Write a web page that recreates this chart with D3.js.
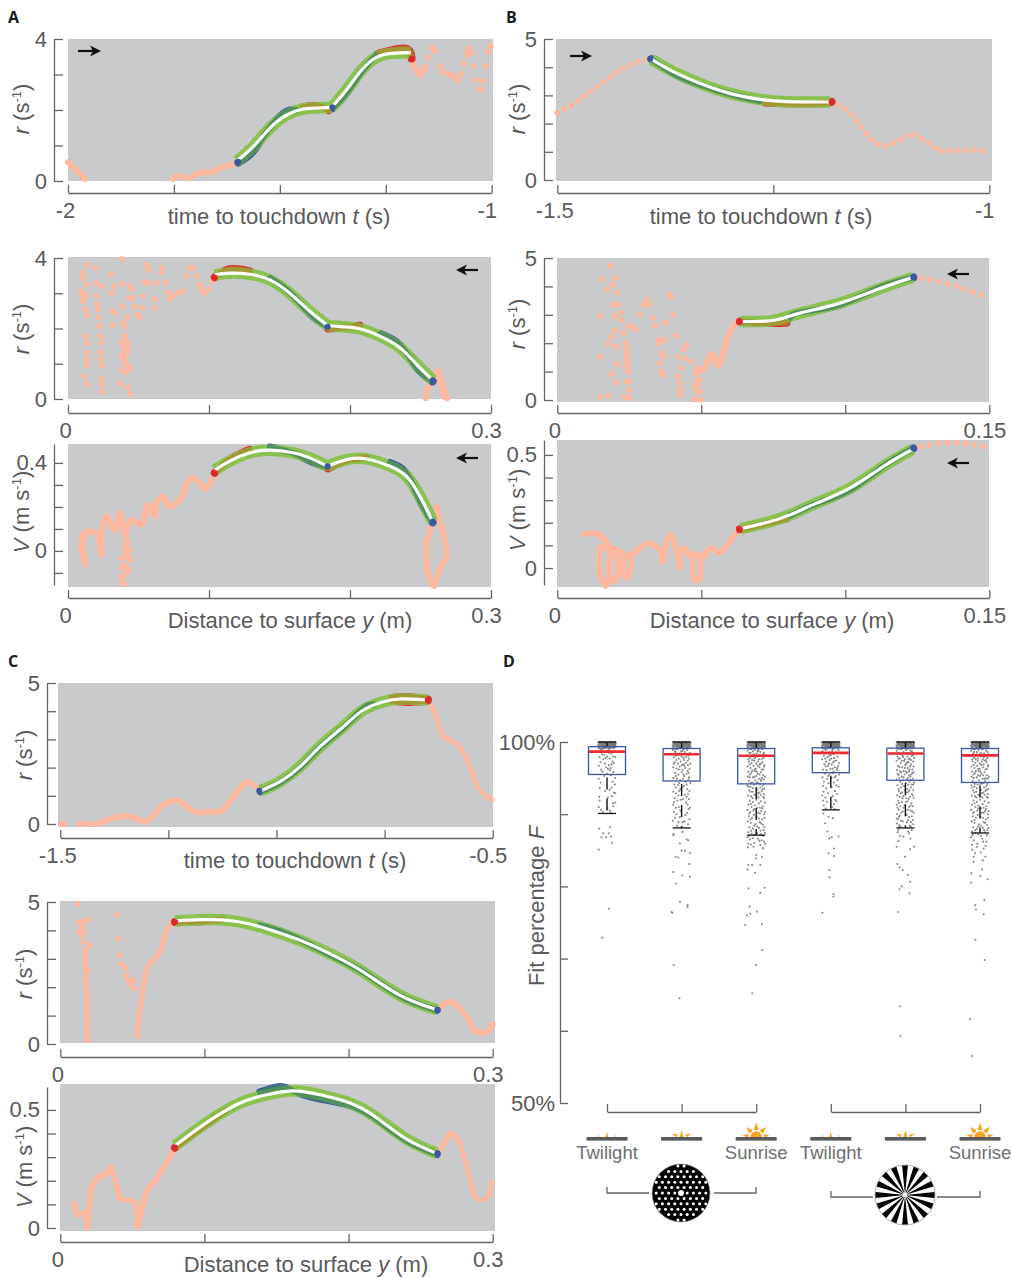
<!DOCTYPE html>
<html lang="en">
<head>
<meta charset="UTF-8">
<title>Landing trajectories and fit percentage</title>
<script src="https://d3js.org/d3.v7.min.js"></script>
<style>
  body { margin: 0; background: #fff; }
  text { font-family: "Liberation Sans", Arial, sans-serif; }
</style>
</head>
<body>
<script>
// Panel A, top: r against time
const a1Fit = [
  [[-1.601,.563],[-1.563,.967],[-1.524,1.484],[-1.484,1.859],[-1.445,2.028],[-1.413,2.056],[-1.378,2.075]],
  [[-1.378,2.075],[-1.343,2.563],[-1.307,3.127],[-1.272,3.484],[-1.236,3.596],[-1.191,3.615]]
];
const a1Blue = [
  [[-1.598,.52],[-1.563,.85],[-1.524,1.5],[-1.484,1.95],[-1.46,2]],
  [[-1.376,2.05],[-1.343,2.48],[-1.307,3.08],[-1.272,3.55]]
];
const a1Red = [
  [[-1.445,2.08],[-1.413,2.11],[-1.385,2]],
  [[-1.264,3.6],[-1.236,3.68],[-1.2,3.72],[-1.189,3.45]]
];
const a1BlueEnds = [[-1.598,.545],[-1.376,2.075]];
const a1RedEnds = [[-1.189,3.437]];
const a1Lines = [
  [[-2,.53],[-1.96,.06]],
  [[-1.752,.06],[-1.74,.14],[-1.717,.08],[-1.689,.23],[-1.657,.26],[-1.642,.36],[-1.602,.5]],
  [[-1.189,3.437],[-1.181,3.174],[-1.168,2.986],[-1.157,3.221]]
];
const a1Dots = [[-1.15,3.484],[-1.14,3.756],[-1.132,3.671],[-1.136,3.7],[-1.122,3.239],[-1.116,3.08],[-1.102,3.005],[-1.096,3],[-1.091,2.958],[-1.079,2.826],[-1.084,2.9],[-1.071,3.014],[-1.065,3.315],[-1.059,3.615],[-1.053,3.737],[-1.047,3.596],[-1.057,3.55],[-1.043,3.239],[-1.037,2.845],[-1.029,2.582],[-1.024,2.563],[-1.02,2.817],[-1.013,3.239],[-1.008,3.643],[-1.002,3.803]];

// Panel A, middle: r against distance
const a2Fit = [
  [[.2586,.535],[.2472,.985],[.2354,1.455],[.2212,1.784],[.207,1.991],[.1952,2.047],[.1841,2.085]],
  [[.1841,2.085],[.1715,2.488],[.1573,3],[.1431,3.38],[.1289,3.54],[.1147,3.57],[.1041,3.52]]
];
const a2Blue = [
  [[.2586,.5],[.2472,.9],[.2354,1.52],[.2212,1.85]],
  [[.1841,2.05],[.1715,2.42],[.1573,3.02],[.1431,3.43]]
];
const a2Red = [
  [[.207,2.08],[.1952,2.03],[.1845,2]],
  [[.1289,3.62],[.1147,3.68],[.1041,3.45]]
];
const a2BlueEnds = [[.2586,.535],[.1841,2.05]];
const a2RedEnds = [[.1041,3.45]];
const a2Lines = [
  [[.2586,.535],[.2626,.753],[.2657,.376],[.269,.02]],
  [[.2586,.535],[.2626,.8],[.2645,.4],[.2672,.05]],
  [[.2586,.535],[.2555,.329],[.2538,.02]]
];
const a2Dots = [[.1024,3.34],[.1001,3.11],[.097,3.01],[.0946,3.11],[.093,3.25],[.0916,3.48],[.0887,3.72],[.0864,3.72],[.084,3.48],[.0812,3.06],[.0781,3.01],[.0745,2.92],[.0722,2.84],[.0705,3.03],[.0693,3.31],[.0667,3.72],[.0662,3.59],[.0627,3.29],[.0615,2.84],[.0615,2.59],[.0568,3.29],[.0568,3.67],[.0556,3.81],[.0544,3.31],[.0532,2.92],[.0528,2.59],[.0509,2.31],[.049,2.4],[.0473,2.63],[.0461,2.87],[.045,3.11],[.0442,3.2],[.0433,2.87],[.0421,2.33],[.0395,2.16],[.0402,2.05],[.039,2.63],[.0386,3.27],[.0379,3.97],[.0331,3.2],[.0308,3.53],[.0312,3.01],[.0319,2.49],[.0331,2.45],[.0319,2.09],[.0244,3.2],[.0201,3.29],[.0196,3.72],[.0201,2.92],[.0208,2.68],[.0213,2.54],[.022,2.31],[.0225,2.07],[.0232,1.79],[.0237,1.6],[.0232,1.32],[.0237,1.13],[.0241,.94],[.0237,.56],[.0241,.42],[.0241,.21],[.0135,3.81],[.0106,3.58],[.0099,3.43],[.0135,3.25],[.0095,3.06],[.0106,2.96],[.0125,2.92],[.0102,2.78],[.0125,2.54],[.0135,2.37],[.0125,1.77],[.0135,1.58],[.0135,1.32],[.0135,1.13],[.0135,.96],[.0118,.64],[.0135,.42],[.0402,1.79],[.0409,1.69],[.0379,1.6],[.0395,1.52],[.0426,1.58],[.0402,1.41],[.0426,1.36],[.0414,1.22],[.0379,1.2],[.0402,1.11],[.0419,.99],[.0386,.83],[.0442,.87],[.0414,.75],[.0371,.44],[.0426,.33],[.0442,.14],[.04,1.65],[.0415,1.5],[.041,1.35],[.0395,1.3],[.0405,1.0]];

// Panel A, bottom: V against distance
const a3Fit = [
  [[.2586,.134],[.2496,.248],[.2401,.339],[.2283,.385],[.2118,.418],[.1975,.415],[.1841,.385]],
  [[.1841,.385],[.1715,.423],[.1597,.446],[.1431,.458],[.1289,.446],[.1147,.408],[.1041,.367]]
];
const a3Blue = [
  [[.2586,.13],[.2496,.23],[.2401,.35],[.2283,.4]],
  [[.1841,.38],[.1715,.41],[.1597,.445],[.1431,.47]]
];
const a3Red = [
  [[.2118,.425],[.1975,.41],[.1845,.375]],
  [[.1289,.46],[.1147,.415],[.1041,.355]]
];
const a3BlueEnds = [[.2586,.134],[.1841,.385]];
const a3RedEnds = [[.1041,.354]];
const a3Lines = [
  [[.1041,.354],[.0977,.281],[.0935,.309],[.0883,.332],[.084,.301],[.0804,.24],[.0722,.202],[.0674,.248],[.0627,.217],[.0615,.157],[.0568,.21],[.052,.119],[.045,.141],[.0402,.081],[.0367,.172],[.0331,.096],[.0272,.157],[.0237,.065],[.0237,-.018],[.0201,.081],[.0154,.088],[.0106,.073],[.0125,-.064],[.0095,.035],[.0135,.08]],
  [[.2586,.134],[.2538,.005],[.2555,-.102],[.2595,-.16],[.2638,-.079],[.2685,-.026],[.2673,.05],[.2633,.141],[.2614,.202],[.2602,.157],[.2586,.134]],
  [[.0402,.081],[.0414,.04],[.0402,.01],[.0425,-.02]]
];
const a3Dots = [[.0402,.11],[.0414,.065],[.0426,.035],[.0442,.005],[.0414,-.026],[.0379,-.033],[.0442,-.041],[.0402,-.064],[.0426,-.079],[.0379,-.079],[.0395,-.11],[.0426,-.094],[.0386,-.14],[.0379,-.12],[.0395,-.15]];

// Panel B, top
const b1Fit = [[[-1.3908,4.279],[-1.3657,3.842],[-1.3349,3.428],[-1.3002,3.073],[-1.2654,2.861],[-1.2346,2.778],[-1.1844,2.766]]];
const b1Blue = [[[-1.3908,4.279],[-1.3657,3.78],[-1.3349,3.38],[-1.3002,3.05],[-1.2654,2.8]]];
const b1Red = [[[-1.2596,2.75],[-1.2346,2.72],[-1.196,2.72],[-1.1825,2.77]]];
const b1BlueEnds = [[-1.3925,4.3]];
const b1RedEnds = [[-1.1825,2.766]];
const b1Dotted = [
  [[-1.5,2.388],[-1.4776,2.778],[-1.4545,3.286],[-1.4313,3.806],[-1.412,4.137],[-1.3927,4.303]],
  [[-1.1825,2.766],[-1.1651,2.506],[-1.1497,1.95],[-1.1343,1.395],[-1.1208,1.206],[-1.1073,1.359],[-1.088,1.619],[-1.0725,1.359],[-1.0571,1.064],[-1.0378,1.04],[-1.0147,1.064],[-1,.969]]
];

// Panel B, middle
const b2Fit = [[[.1234,4.318],[.1109,3.882],[.0981,3.412],[.0843,3.059],[.0762,2.824],[.0704,2.765],[.0637,2.765]]];
const b2Blue = [[[.1236,4.318],[.1109,3.92],[.0981,3.36],[.0843,3.08],[.0808,2.9]]];
const b2Red = [[[.0796,2.72],[.0704,2.71],[.0634,2.765]]];
const b2BlueEnds = [[.1236,4.318]];
const b2RedEnds = [[.0634,2.765]];
const b2Dotted = [[[.1262,4.294],[.1329,4.165],[.1392,3.976],[.1454,3.765],[.1488,3.624]]];
const b2Lines = [[[.0634,2.765],[.0605,2.529],[.0582,1.882],[.0559,1.2],[.0536,1.624],[.0507,1.059],[.0484,1.118]]];
const b2Dots = [[.0466,1.353],[.0449,1.941],[.0438,1.765],[.042,1.529],[.0443,1.471],[.0432,1.118],[.042,.824],[.0426,.588],[.0426,.176],[.0426,.35],[.0484,.941],[.0495,.706],[.0478,.471],[.0495,.294],[.0476,.02],[.0499,.02],[.0484,.706],[.0414,2.259],[.0397,3.624],[.0389,3.706],[.0403,3],[.0377,2.729],[.037,2.118],[.0354,2],[.0362,1.647],[.037,1.529],[.0356,1.294],[.0362,1],[.0365,.882],[.0351,2.118],[.0339,2.612],[.0333,2.882],[.0322,3.353],[.031,3.529],[.0299,3.353],[.0287,3],[.0275,2.471],[.0258,2.588],[.0247,2.588],[.0231,2.353],[.0223,2.824],[.022,3.059],[.0215,3.353],[.0208,3.788],[.0204,4.294],[.0194,4.059],[.0174,3.882],[.0186,4.729],[.0154,4.259],[.0148,2.965],[.0194,3.353],[.0197,2.941],[.02,2.447],[.0189,2.212],[.0177,1.976],[.0204,1.882],[.0206,1.271],[.0189,.918],[.0206,.612],[.0148,1.529],[.0238,2],[.0241,1.647],[.0243,1.412],[.0238,1.176],[.0247,1],[.0241,.647],[.025,.647],[.025,.353],[.0235,.118],[.025,.059],[.0148,.118],[.0177,.153],[.024,1.82],[.0242,1.53],[.0246,1.28],[.0488,.55],[.0484,.3]];

// Panel B, bottom
const b3Fit = [[[.1234,.525],[.1132,.449],[.1016,.353],[.09,.287],[.0808,.235],[.0727,.201],[.0637,.174]]];
const b3Blue = [[[.1236,.529],[.1132,.45],[.1016,.345],[.09,.285],[.0808,.232]]];
const b3Red = [[[.0796,.22],[.0727,.198],[.0634,.172]]];
const b3BlueEnds = [[.1236,.529]];
const b3RedEnds = [[.0634,.172]];
const b3Dotted = [[[.1262,.537],[.1329,.551],[.1392,.554],[.1454,.544],[.1488,.537]]];
const b3Lines = [
  [[.0634,.172],[.06,.118],[.0582,.088],[.0562,.066],[.0531,.088],[.0507,.051],[.0484,.059]],
  [[.0475,.059],[.047,0],[.0478,-.051],[.0493,-.051],[.0501,0],[.0493,.059],[.0475,.059]],
  [[.0484,.059],[.0461,.059],[.0443,.088],[.0426,.051],[.0426,0],[.0414,.081],[.0395,.147],[.0374,.088],[.0366,.029],[.0356,.081],[.0316,.11],[.0275,.074],[.0258,.059],[.0235,.059]],
  [[.0229,.037],[.0231,-.029],[.0244,-.044],[.0255,0],[.025,.059],[.0229,.037]],
  [[.0235,.059],[.0205,.081],[.0188,.088],[.0212,.037],[.0212,-.022],[.0194,-.059],[.0181,-.022],[.0183,.051],[.0194,.088]],
  [[.0171,.088],[.0154,.096],[.0144,.015],[.0154,-.051],[.0169,-.078],[.0181,-.022],[.0183,.051],[.0169,.118],[.0142,.15],[.009,.151]]
];

// Panel C, top
const c1Fit = [[[-1.0366,1.182],[-.9919,1.501],[-.9456,2.033],[-.8994,2.742],[-.8454,3.452],[-.7991,4.043],[-.7529,4.338],[-.7143,4.433],[-.6527,4.397]]];
const c1Blue = [[[-1.0366,1.16],[-.9919,1.47],[-.9456,2],[-.8994,2.72],[-.8454,3.42],[-.7991,4.1],[-.776,4.25]]];
const c1Red = [
  [[-.7336,4.47],[-.7,4.5],[-.65,4.42]],
  [[-.7336,4.38],[-.695,4.33],[-.65,4.38]]
];
const c1BlueEnds = [[-1.0397,1.182]];
const c1RedEnds = [[-.6503,4.397]];
const c1Lines = [
  [[-1.4969,0],[-1.49,0]],
  [[-1.4545,0],[-1.4275,0]],
  [[-1.4136,0],[-1.3851,.177],[-1.3527,.284],[-1.3234,.2],[-1.3042,.059],[-1.281,.355],[-1.2618,.674],[-1.2271,.827],[-1.2039,.579],[-1.1847,.414],[-1.1538,.437],[-1.1268,.461],[-1.0998,.969],[-1.0675,1.478],[-1.0397,1.206]]
];
const c1Dotted = [[[-.6488,4.338],[-.6372,4.043],[-.6257,3.546],[-.6141,3.097],[-.5987,2.979],[-.5771,2.742],[-.5601,2.329],[-.5486,1.856],[-.537,1.383],[-.5216,1.064],[-.5,.851]]];

// Panel C, middle
const c2Fit = [[[.2612,1.209],[.2357,1.714],[.2103,2.535],[.1895,3.122],[.1663,3.65],[.1432,4.061],[.1201,4.331],[.0969,4.378],[.0796,4.331]]];
const c2Blue = [[[.2612,1.19],[.2357,1.69],[.2103,2.53],[.1895,3.08],[.1663,3.67],[.1524,3.97],[.1386,4.18]]];
const c2Red = [[[.1131,4.38],[.1015,4.33],[.0877,4.31],[.0796,4.3]]];
const c2BlueEnds = [[.2616,1.209]];
const c2RedEnds = [[.0796,4.296]];
const c2Lines = [[[.2616,1.209],[.2669,1.42],[.2716,1.479],[.2774,1.244],[.2831,.892],[.2878,.458],[.2959,.423],[.3,.692]]];
const c2Dotted = [
  [[.0796,4.331],[.0738,4.002],[.0692,3.239],[.0645,2.946],[.0611,2.77],[.0588,2.359],[.0564,1.538],[.0541,.833],[.053,.188]],
  [[.0187,.129],[.0187,.423],[.0187,.716],[.0187,1.068],[.0183,1.303],[.0187,1.714],[.0178,2.101],[.0178,2.476],[.0171,3.04],[.0171,3.298]]
];
const c2Dots = [[.0396,4.554],[.0402,3.709],[.0409,3.122],[.0419,2.829],[.0449,2.688],[.0472,2.242],[.0507,2.242],[.0518,1.948],[.0483,2.066],[.0456,2.418],[.0194,2.594],[.0201,3.474],[.0164,3.592],[.0148,3.826],[.0136,3.944],[.0148,4.261],[.0201,4.378],[.0125,4.941],[.0132,4.296],[.0165,3.95],[.016,4.32],[.0155,4.15]];

// Panel C, bottom
const c3Fit = [[[.2612,.316],[.2403,.376],[.2195,.467],[.201,.529],[.1802,.564],[.1617,.581],[.1432,.564],[.1247,.529],[.1015,.446],[.0796,.348]]];
const c3Blue = [[[.2612,.313],[.2403,.37],[.2195,.46],[.201,.52],[.1802,.548],[.1617,.58],[.1524,.597],[.1386,.575]]];
const c3Red = [[[.1154,.5],[.0969,.42],[.0796,.34]]];
const c3BlueEnds = [[.2616,.316]];
const c3RedEnds = [[.0796,.341]];
const c3Lines = [
  [[.2616,.313],[.2658,.355],[.2716,.4],[.2774,.355]],
  [[.0796,.341],[.0726,.265],[.0669,.209],[.0611,.167],[.0576,.104],[.0541,.014],[.053,.007]],
  [[.0414,.125],[.0391,.181]],
  [[.0356,.258],[.0322,.23],[.0252,.209],[.0217,.167],[.0194,.063],[.0187,0],[.0171,.063],[.0125,.056],[.0095,.104]]
];
const c3Dotted = [
  [[.2774,.355],[.282,.265],[.2866,.153],[.289,.125],[.2959,.125],[.3,.209]],
  [[.053,.007],[.0518,.111],[.046,.118],[.0414,.125],[.0391,.181],[.0356,.258]]
];

// Panel D: box values (median, quartiles, lower whisker)
const stimulusLevels = ["dots twilight", "dots mid", "dots sunrise", "pinwheel twilight", "pinwheel mid", "pinwheel sunrise"];
const boxMedian = [98.66, 98.3, 98.1, 98.5, 98.4, 98.15];
const boxQ3 = [99.35, 99.1, 99.1, 99.2, 99.15, 99.1];
const boxQ1 = [95.5, 94.6, 94.2, 95.75, 94.7, 94.4];
const whiskerLow = [90.1, 88.1, 87.1, 90.6, 88.1, 87.4];
const fitTicks = [50, 60, 70, 80, 90, 100];
const fitTickLabels = ["50%", "", "", "", "", "100%"];
const sunLevel = [1, 2, 3, 1, 2, 3];

// Panel D: scatter as [jitter, F]
const topBand = [[-.95,99.9],[-.85,99.6],[-.78,100],[-.7,99.4],[-.62,99.8],[-.55,99.1],[-.48,99.95],[-.42,99.5],[-.35,99.75],[-.28,99.2],[-.2,100],[-.13,99.55],[-.05,99.85],[.02,99.3],[.1,99.95],[.16,99.65],[.23,99],[.3,99.9],[.37,99.45],[.45,99.7],[.52,100],[.58,99.25],[.65,99.8],[.72,99.5],[.8,100],[.88,99.35],[.96,99.85],[-.9,99.3],[-.66,100],[-.4,99.1],[-.15,99.35],[.05,99.65],[.27,99.6],[.49,99.4],[.75,99.15],[.92,99.6],[-.75,99.7],[-.5,99.65],[-.22,99.75],[.12,99.2],[.4,100],[.62,99.55],[.85,99.75],[-.3,99.95],[.2,99.85],[-.98,99.5],[-.88,99.15],[-.8,99.85],[-.72,99.05],[-.6,99.55],[-.52,99.35],[-.45,99.8],[-.38,99.25],[-.32,99.55],[-.25,99.45],[-.18,99.85],[-.1,99.15],[-.02,99.5],[.07,99.4],[.14,99.95],[.19,99.45],[.25,99.25],[.33,99.75],[.42,99.15],[.47,99.9],[.55,99.65],[.6,99.85],[.68,99.3],[.78,99.65],[.83,99.45],[.9,100],[.97,99.35]];
const g1Points = [[-.9,98.6],[-.6,98.9],[-.3,98.2],[.1,98.8],[.5,98.4],[.8,98.7],[-.8,97.9],[-.4,97.6],[0,98],[.3,97.7],[.6,97.3],[.9,97.9],[-.7,97.2],[-.2,97],[.2,96.8],[.5,96.9],[.1,96.3],[-.1,96.5],[.3,96.1],[-.9,96.7],[-.5,95.9],[.7,95.8],[0,95.6],[.4,95.4],[-.3,95.3],[.9,95],[-.9,94.9],[-.7,94.4],[.6,94.5],[.85,94.1],[.5,93.7],[-.8,93.6],[-.2,93.2],[.3,93.4],[.75,93],[.9,92.9],[-.85,92.4],[.1,92.3],[.55,92.5],[-.8,91.9],[.65,91.5],[.9,91.6],[.7,91.1],[-.9,91],[-.65,90.6],[.05,90.8],[-.45,90.3],[.4,90.2],[.3,90.5],[-.84,88],[.33,88.2],[-.4,87.35],[.2,87.35],[-.6,86.8],[-.1,86.8],[.44,86.9],[.55,86.05],[-.91,85.1],[.22,76.9],[-.5,72.9],[-.55,98.3],[.25,98.5],[.65,98],[-.15,97.8],[.4,96.4],[-.65,96.2],[-.25,98.7],[.75,97.1]];
const g2Points = [[-.95,98.9],[-.7,98.7],[-.5,99],[-.2,98.4],[.1,98.8],[.35,98.6],[.6,98.9],[.9,98.5],[-.85,97.9],[-.6,98.1],[-.3,97.7],[0,98],[.25,97.5],[.5,97.9],[.8,97.7],[-.75,97.2],[-.4,97],[-.1,97.3],[.2,96.9],[.45,97.1],[.7,96.8],[.95,97],[-.9,96.5],[-.55,96.3],[-.2,96.6],[.1,96.1],[.4,96.4],[.65,96],[.85,96.3],[-.7,95.7],[-.35,95.5],[0,95.8],[.3,95.3],[.55,95.6],[.8,95.1],[-.9,95],[-.5,94.9],[-.15,94.7],[.15,94.9],[.45,94.5],[.75,94.8],[.95,94.3],[-.8,94.1],[-.4,94],[.1,93.7],[.6,93.5],[.85,93.2],[-.9,93.1],[-.6,92.9],[-.25,93.2],[.35,92.7],[.55,92.4],[-.75,92.2],[-.45,91.9],[-.1,92],[.8,92.1],[.65,91.3],[-.9,91.3],[-.6,90.9],[-.3,91],[.75,90.7],[-.85,90.3],[-.55,90],[.4,89.9],[.6,90.2],[-.7,89.5],[-.2,89.6],[-.95,89.1],[.85,89.3],[.1,88.9],[.7,88.6],[-.5,88.4],[-.84,87.25],[.11,87.55],[.73,86.4],[-.18,85.95],[-.91,87.1],[.55,86.5],[0,84.95],[.36,84.95],[.91,84.65],[-.65,84.1],[-.36,84],[.84,83.1],[-.91,82],[.07,81.5],[.91,81.35],[-.65,80.4],[-.18,77.85],[.65,77.15],[-1,76.35],[-1.09,76.45],[.65,77.4],[-.87,69.1],[-.22,64.5]];
const g2Extra = [[-.65,98.6],[-.05,98.7],[.45,98.3],[.75,98.1],[-.35,98.2],[.2,97.8],[-.55,97.5],[.65,97.4],[-.85,97],[.3,96.7],[-.3,96.2],[.05,96.8],[.75,95.7],[-.6,95.3],[.2,95.5],[-.25,94.3],[.55,94.1],[-.65,93.7],[.25,93.9],[-.15,93.5],[.7,92.8],[-.35,92.6],[.15,92.1],[.5,91.6],[-.8,91.7],[.9,90.9],[-.15,90.5],[.3,89],[-.35,88.9]];
const g3Points = [[-.95,98.8],[-.75,98.5],[-.55,99],[-.35,98.7],[-.15,98.9],[.05,98.4],[.25,98.8],[.45,98.6],[.65,99],[.85,98.5],[-.9,98.1],[-.65,97.8],[-.4,98.2],[-.2,97.7],[.1,98],[.3,97.6],[.55,98.1],[.8,97.8],[.95,98.2],[-.8,97.3],[-.5,97.1],[-.25,97.4],[0,97],[.2,97.3],[.4,96.9],[.7,97.2],[.9,96.8],[-.95,96.6],[-.6,96.4],[-.3,96.7],[-.05,96.3],[.35,96.5],[.6,96.2],[.85,96.6],[-.85,95.9],[-.55,95.7],[-.15,96],[.15,95.6],[.5,95.8],[.75,95.4],[-.9,95.2],[-.7,95.5],[-.35,95.1],[0,95.3],[.3,94.9],[.65,95],[.95,95.2],[-.8,94.6],[-.45,94.4],[-.1,94.7],[.2,94.3],[.55,94.6],[.8,94.2],[-.95,94],[-.6,93.8],[-.25,94.1],[.45,93.7],[.7,93.9],[.9,93.5],[-.75,93.3],[-.4,93.1],[.1,93.4],[.35,93],[.6,93.2],[.85,92.8],[-.9,92.6],[-.55,92.5],[-.2,92.7],[.25,92.3],[.75,92.4],[-.7,91.9],[-.35,91.7],[0,92],[.5,91.8],[.95,91.6],[-.85,91.3],[-.5,91],[-.15,91.2],[.4,90.9],[.7,91.1],[-.95,90.6],[-.65,90.3],[-.3,90.5],[.2,90.2],[.55,90.4],[.85,90],[-.8,89.7],[-.45,89.5],[.05,89.6],[.65,89.3],[.9,89.5],[-.9,89],[-.6,88.8],[-.1,88.6],[.4,88.9],[.75,88.5],[-.75,88.2],[-.35,88],[.3,88.1],[.8,87.8],[-.85,87.5],[-.5,87.3],[.1,87.4],[.55,87.2],[.95,87.4],[-.95,86.8],[-.7,86.5],[-.4,86.7],[.2,86.6],[.6,86.4],[.85,86.2],[-.85,85.9],[-.55,85.8],[-.2,86],[.45,85.7],[.95,85.9],[-.9,85.4],[.75,85.3],[-.87,82.95],[-.44,82.95],[.44,82.95],[-.11,81.9],[-.95,82.35],[0,84.35],[0,83.9],[.62,84.1],[-.84,79.75],[.91,79.8],[.44,79.1],[-.73,77.2],[.07,76.5],[-1,76],[.62,74.75],[-.65,76.2],[-1.2,74.65],[.65,71.2],[0,69.1],[-.43,65.2]];
const g3Extra = [[-.6,98.5],[.15,98.7],[.75,98.3],[-.25,98.3],[.35,98.2],[-.85,97.6],[-.1,97.9],[.6,97.6],[-.45,97.5],[.15,96.7],[.5,97],[-.7,96.9],[-.2,96.2],[.75,96.2],[.05,95.9],[-.45,96],[.35,95.5],[-.7,95.1],[-.2,95.2],[.5,94.8],[.85,94.8],[-.6,94.3],[.05,94.4],[.4,94.2],[.7,93.5],[-.35,93.6],[-.85,93.8],[.2,92.9],[-.6,93.1],[.5,92.7],[.05,92.5],[-.4,92.2],[.85,92.2],[.3,91.5],[-.6,91.4],[.65,90.8],[-.2,90.7],[.1,90.9],[-.75,90.1],[.4,90.1],[.95,90.3],[-.25,89.9],[.3,89.4],[-.6,89.3],[.55,88.7],[-.2,88.4],[.1,88.3],[.9,88.2],[-.55,87.7],[.45,87.7],[-.2,87.1],[.75,87],[-.8,87],[.35,86.3],[-.3,85.5]];
const g4Points = [[-.9,98.7],[-.55,98.9],[-.2,98.4],[.15,98.8],[.5,98.5],[.85,98.9],[-.75,98.1],[-.35,97.9],[0,98.2],[.35,97.8],[.7,98],[-.95,97.6],[-.5,97.3],[-.1,97.5],[.25,97.2],[.6,97.4],[.9,97.1],[-.7,96.9],[-.3,96.7],[.1,96.9],[.45,96.5],[.8,96.7],[-.85,96.2],[-.45,96.1],[-.05,96.3],[.3,95.9],[.65,96.1],[-.6,95.6],[-.15,95.5],[.2,95.7],[.55,95.3],[.9,95.5],[-.9,95.1],[-.4,94.9],[.05,95],[.75,94.7],[-.75,94.5],[-.25,94.3],[.35,94.4],[.6,94],[-.85,93.9],[-.5,93.6],[.1,93.7],[.85,93.8],[-.8,93.1],[-.3,92.9],[.45,93.2],[.7,92.8],[-.95,92.6],[-.6,92.3],[.2,92.5],[.5,92],[-.85,91.9],[-.4,91.7],[.35,91.4],[.6,91.8],[-.75,91.2],[-.55,90.8],[.15,91],[.4,90.7],[-.8,90.1],[-.25,89.65],[.22,89.45],[-.62,88.75],[-.36,87.6],[.84,86.9],[-.15,86.65],[.11,86.8],[.36,85.25],[-.25,84.6],[.36,84.2],[-.15,82.25],[-.15,81.25],[.29,78.95],[.29,78.6],[-.91,76.35],[-.65,98.4],[.3,98.3],[.75,98.5],[-.15,98.1],[-.6,97.7],[.4,97.4],[.05,97.7],[-.2,97],[.7,96.4],[.2,96.3],[-.55,96.6],[-.3,95.3],[.4,95.1]];
const g5Points = [[-.95,98.8],[-.7,98.5],[-.45,99],[-.2,98.6],[.05,98.9],[.3,98.4],[.55,98.8],[.8,98.5],[-.85,98],[-.6,97.7],[-.3,98.1],[-.05,97.6],[.2,98],[.45,97.7],[.7,98.1],[.95,97.8],[-.95,97.4],[-.5,97.1],[-.15,97.4],[.1,97],[.35,97.2],[.6,96.9],[.85,97.3],[-.8,96.7],[-.35,96.5],[0,96.8],[.25,96.4],[.5,96.6],[.75,96.2],[-.9,96.1],[-.6,95.9],[-.2,96],[.15,95.7],[.4,95.9],[.65,95.5],[.9,95.8],[-.75,95.4],[-.4,95.2],[-.1,95.5],[.3,95],[.55,95.2],[.8,94.9],[-.95,94.8],[-.55,94.5],[-.25,94.7],[.05,94.3],[.45,94.5],[.7,94.1],[.95,94.4],[-.85,94],[-.5,93.7],[-.15,93.9],[.2,93.5],[.6,93.7],[.85,93.3],[-.7,93.2],[-.35,93],[.35,93.1],[.7,92.8],[-.9,92.6],[-.6,92.4],[-.2,92.5],[.1,92.2],[.5,92.4],[.9,92.2],[-.8,91.9],[-.4,91.7],[.25,91.8],[.65,91.5],[-.95,91.3],[-.55,91.1],[-.1,91.2],[.4,91],[.8,91.1],[-.75,90.6],[-.3,90.4],[.55,90.5],[.9,90.2],[-.9,90],[-.6,89.8],[.15,89.9],[.7,89.7],[-.8,89.3],[-.5,89.1],[.3,89.2],[.6,88.9],[-.9,88.7],[-.65,88.5],[.45,88.4],[.85,88.6],[-.7,88.2],[-.76,87.8],[-.22,86.9],[.4,87.35],[.69,87.8],[.95,85.5],[-.95,85.5],[.51,85.15],[-.04,84.1],[-.87,83.1],[-.65,82.65],[-.29,82.25],[.25,81.6],[.51,80.65],[-.4,80],[-.65,79.6],[.44,79.05],[-.8,76.45],[-.54,63.4],[-.54,59.3]];
const g5Extra = [[-.55,98.3],[.15,98.5],[.7,98.7],[-.25,97.9],[.35,97.6],[-.75,97.7],[.85,98.2],[-.4,97.4],[.2,97.2],[.6,97.5],[-.65,96.5],[-.05,96.4],[.45,96.2],[.9,96.6],[-.45,95.8],[.05,95.9],[.75,95.7],[-.85,95.6],[-.2,95.1],[.4,95.4],[-.65,95],[.15,94.8],[.6,94.7],[-.35,94.2],[.3,94.1],[.85,94.1],[-.75,93.5],[-.05,93.3],[.45,93.3],[-.5,92.9],[.15,93],[.8,92.6],[-.3,92.2],[.35,92.1],[-.7,91.6],[.05,91.7],[.55,91.2],[-.85,90.9],[-.2,90.9],[.25,90.6],[.75,90.4],[-.45,90.2],[.4,89.6],[-.7,89.6],[.8,89.2],[-.95,89.4],[-.3,89],[.15,88.9],[-.55,88.3],[.6,88.3],[-.85,87.5],[.3,87.6],[-.6,87],[.55,86.6],[-.75,86.3]];
const g6Points = [[-.95,98.8],[-.75,98.4],[-.55,99],[-.35,98.6],[-.15,98.9],[.05,98.5],[.25,99],[.45,98.4],[.65,98.8],[.85,98.6],[-.9,98.1],[-.65,97.8],[-.4,98.2],[-.2,97.7],[.1,98],[.3,97.6],[.55,98.1],[.8,97.8],[.95,98.3],[-.8,97.3],[-.5,97.1],[-.25,97.4],[0,97],[.2,97.3],[.4,96.9],[.7,97.2],[.9,96.8],[-.95,96.6],[-.6,96.4],[-.3,96.7],[-.05,96.3],[.35,96.5],[.6,96.2],[.85,96.6],[-.85,95.9],[-.55,95.7],[-.15,96],[.15,95.6],[.5,95.8],[.75,95.4],[-.9,95.2],[-.7,95.5],[-.35,95.1],[0,95.3],[.3,94.9],[.65,95],[.95,95.2],[-.8,94.6],[-.45,94.4],[-.1,94.7],[.2,94.3],[.55,94.6],[.8,94.2],[-.95,94],[-.6,93.8],[-.25,94.1],[.45,93.7],[.7,93.9],[.9,93.5],[-.75,93.3],[-.4,93.1],[.1,93.4],[.35,93],[.6,93.2],[.85,92.8],[-.9,92.6],[-.55,92.5],[-.2,92.7],[.25,92.3],[.75,92.4],[-.7,91.9],[-.35,91.7],[0,92],[.5,91.8],[.95,91.6],[-.85,91.3],[-.5,91],[-.15,91.2],[.4,90.9],[.7,91.1],[-.95,90.6],[-.65,90.3],[-.3,90.5],[.2,90.2],[.55,90.4],[.85,90],[-.8,89.7],[-.45,89.5],[.05,89.6],[.65,89.3],[.9,89.5],[-.9,89],[-.6,88.8],[-.1,88.6],[.4,88.9],[.75,88.5],[-.75,88.2],[-.35,88],[.3,88.1],[.8,87.8],[-.85,87.6],[-.5,87.4],[.55,87.5],[.1,87],[-.95,86.8],[-.65,86.4],[.25,86.6],[.7,86.2],[-.87,85.75],[-.33,85.5],[.4,85.25],[-.69,84.1],[.58,84.1],[-.69,83.4],[.22,82.35],[-.95,81.8],[.04,81.45],[.84,81],[-.98,80.5],[.47,78.1],[-.51,77.4],[-.44,76.8],[.4,76.15],[-.5,72.6],[.5,69.8],[-1.09,61.6],[-.87,56.5]];
const g6Extra = [[-.65,98.6],[.15,98.3],[.75,98.2],[-.3,98.3],[.4,97.9],[-.05,98.1],[-.85,97.6],[.65,97.5],[-.45,97.6],[.15,96.8],[.5,97.4],[-.7,96.8],[-.2,96.3],[.75,96.3],[.05,95.9],[-.45,96],[.35,95.4],[-.7,95],[-.2,95.4],[.5,94.9],[.85,94.9],[-.6,94.2],[.05,94.2],[.4,94.3],[.7,93.4],[-.35,93.6],[-.85,93.7],[.2,92.9],[-.6,93],[.5,92.7],[.05,92.5],[-.4,92.3],[.85,92.3],[.3,91.4],[-.6,91.5],[.65,90.7],[-.2,90.8],[.1,90.8],[-.75,90.2],[.4,90.2],[.95,90.4],[-.25,89.9],[.3,89.5],[-.6,89.2],[.55,88.8],[-.2,88.3],[.1,88.4],[.9,88.1],[-.55,87.8],[.45,87.8],[-.2,87.2],[.75,87.1],[-.8,87.1],[.35,86.2],[-.3,85.9],[.6,85.6],[.1,84.7],[-.55,84.6],[.3,83.6],[-.85,85.1]];
const fitPoints = [g1Points, g2Points.concat(g2Extra), g3Points.concat(g3Extra), g4Points, g5Points.concat(g5Extra), g6Points.concat(g6Extra)];

const colors = { gray: "#c9cacc", orange: "#fcb9a0", green: "#8ac24f", blue: "#3c56a6", red: "#e1252a", axis: "#636466", text: "#58595b" };
const W = 1013, H = 1278;
const labelSize = 22;

const panels = [
  { gray: [68,493,39,181], xRange: [68,491.7], yRange: [181,39], xDomain: [-2,-1], yDomain: [0,4], axisX: 54, axisY: 193,
    xTicks: [-2,-1.75,-1.5,-1.25,-1], xLabels: ["-2","","","","-1"], yTicks: [0,1,2,3,4], yLabels: ["0","","","","4"],
    fit: a1Fit, blue: a1Blue, red: a1Red, blueEnds: a1BlueEnds, redEnds: a1RedEnds, lines: a1Lines, dots: a1Dots,
    yName: "r", yNameAt: [29,109], xName: "time", xNameAt: [279,224], arrow: [78,101,51] },
  { gray: [68,491,257,399], xRange: [68,491], yRange: [399,258], xDomain: [0,.3], yDomain: [0,4], axisX: 54, axisY: 413,
    xTicks: [0,.1,.2,.3], xLabels: ["0","","","0.3"], yTicks: [0,1,2,3,4], yLabels: ["0","","","","4"],
    fit: a2Fit, blue: a2Blue, red: a2Red, blueEnds: a2BlueEnds, redEnds: a2RedEnds, lines: a2Lines, dots: a2Dots,
    yName: "r", yNameAt: [29,329], arrow: [478,456,270] },
  { gray: [68,491,444,587], xRange: [68,491], yRange: [585,444], xDomain: [0,.3], yDomain: [-.155,.486], axisX: 54, axisY: 598,
    xTicks: [0,.1,.2,.3], xLabels: ["0","","","0.3"], yTicks: [-.1,0,.1,.2,.3,.4], yLabels: ["","0","","","","0.4"],
    fit: a3Fit, blue: a3Blue, red: a3Red, blueEnds: a3BlueEnds, redEnds: a3RedEnds, lines: a3Lines, dots: a3Dots,
    yName: "V", yNameAt: [29,512], xName: "dist", xNameAt: [290,628], arrow: [478,456,458] },
  { gray: [556,992,39,181], xRange: [557.3,989.3], yRange: [180,39], xDomain: [-1.5,-1], yDomain: [0,5], axisX: 544, axisY: 193,
    xTicks: [-1.5,-1.25,-1], xLabels: ["-1.5","","-1"], yTicks: [0,1,2,3,4,5], yLabels: ["0","","","","","5"],
    fit: b1Fit, blue: b1Blue, red: b1Red, blueEnds: b1BlueEnds, redEnds: b1RedEnds, dotted: b1Dotted, dotGap: 8,
    yName: "r", yNameAt: [525,109], xName: "time", xNameAt: [761,224], arrow: [570,592,56] },
  { gray: [557,989,258,402], xRange: [557.3,989.3], yRange: [400,258], xDomain: [0,.15], yDomain: [0,5], axisX: 544, axisY: 413,
    xTicks: [0,.05,.1,.15], xLabels: ["0","","","0.15"], yTicks: [0,1,2,3,4,5], yLabels: ["0","","","","","5"],
    fit: b2Fit, blue: b2Blue, red: b2Red, blueEnds: b2BlueEnds, redEnds: b2RedEnds, lines: b2Lines, dots: b2Dots, dotted: b2Dotted, dotGap: 9,
    yName: "r", yNameAt: [525,324], arrow: [969,947,274] },
  { gray: [557,989,440,587], xRange: [557.3,989.3], yRange: [585,440], xDomain: [0,.15], yDomain: [-.075,.566], axisX: 544, axisY: 598,
    xTicks: [0,.05,.1,.15], xLabels: ["0","","","0.15"], yTicks: [0,.1,.2,.3,.4,.5], yLabels: ["0","","","","","0.5"],
    fit: b3Fit, blue: b3Blue, red: b3Red, blueEnds: b3BlueEnds, redEnds: b3RedEnds, lines: b3Lines, dotted: b3Dotted, dotGap: 9,
    yName: "V", yNameAt: [525,510], xName: "dist", xNameAt: [772,628], arrow: [969,947,463] },
  { gray: [58,493,683,827], xRange: [60.3,492.7], yRange: [824,683], xDomain: [-1.5,-.5], yDomain: [0,5], axisX: 47, axisY: 838,
    xTicks: [-1.5,-1.25,-1,-.75,-.5], xLabels: ["-1.5","","","","-0.5"], yTicks: [0,1,2,3,4,5], yLabels: ["0","","","","","5"],
    fit: c1Fit, blue: c1Blue, red: c1Red, blueEnds: c1BlueEnds, redEnds: c1RedEnds, lines: c1Lines, dotted: c1Dotted, dotGap: 6,
    yName: "r", yNameAt: [32,755], xName: "time", xNameAt: [295,868] },
  { gray: [60,495,901,1043], xRange: [60.3,492.7], yRange: [1044,902], xDomain: [0,.3], yDomain: [0,5], axisX: 47, axisY: 1057,
    xTicks: [0,.1,.2,.3], xLabels: ["0","","","0.3"], yTicks: [0,1,2,3,4,5], yLabels: ["0","","","","","5"],
    fit: c2Fit, blue: c2Blue, red: c2Red, blueEnds: c2BlueEnds, redEnds: c2RedEnds, lines: c2Lines, dots: c2Dots, dotted: c2Dotted, dotGap: 5,
    yName: "r", yNameAt: [32,974] },
  { gray: [60,495,1084,1231], xRange: [60.3,492.7], yRange: [1228,1087], xDomain: [0,.3], yDomain: [0,.597], axisX: 47, axisY: 1242,
    xTicks: [0,.1,.2,.3], xLabels: ["0","","","0.3"], yTicks: [0,.1,.2,.3,.4,.5], yLabels: ["0","","","","","0.5"],
    fit: c3Fit, blue: c3Blue, red: c3Red, blueEnds: c3BlueEnds, redEnds: c3RedEnds, lines: c3Lines, dotted: c3Dotted, dotGap: 6,
    yName: "V", yNameAt: [32,1167], xName: "dist", xNameAt: [306,1272] }
];

const svg = d3.select("body").append("svg").attr("width", W).attr("height", H);

// writes a label made of plain, italic and superscript pieces
function styledText(parent, x, y, rotate, pieces) {
  const t = parent.append("text")
    .attr("transform", `translate(${x},${y})${rotate ? " rotate(-90)" : ""}`)
    .attr("text-anchor", "middle")
    .attr("font-size", labelSize)
    .attr("fill", colors.text);
  pieces.forEach(p => {
    const s = t.append("tspan").text(p[0]);
    if (p[1] === "i") s.attr("font-style", "italic");
    if (p[1] === "sup") s.attr("font-size", 13).attr("dy", -8);
    if (p[1] === "after") s.attr("dy", 8);
  });
}

const yNames = {
  r: [["r", "i"], [" (s"], ["-1", "sup"], [")", "after"]],
  V: [["V", "i"], [" (m s"], ["-1", "sup"], [")", "after"]]
};
const xNames = {
  time: [["time to touchdown "], ["t", "i"], [" (s)"]],
  dist: [["Distance to surface "], ["y", "i"], [" (m)"]]
};

function drawPanel(p) {
  const g = svg.append("g");
  const x = d3.scaleLinear().domain(p.xDomain).range(p.xRange);
  const y = d3.scaleLinear().domain(p.yDomain).range(p.yRange);
  const curve = d3.line().x(d => x(d[0])).y(d => y(d[1])).curve(d3.curveCatmullRom.alpha(.5));
  const smooth = d3.line().x(d => x(d[0])).y(d => y(d[1])).curve(d3.curveNatural);

  g.append("rect").attr("x", p.gray[0]).attr("y", p.gray[2])
    .attr("width", p.gray[1] - p.gray[0]).attr("height", p.gray[3] - p.gray[2])
    .attr("fill", colors.gray);

  // y axis, ticks point into the plot
  const ay = g.append("g").attr("transform", `translate(${p.axisX},0)`)
    .call(d3.axisLeft(y).tickValues(p.yTicks).tickSizeInner(-9).tickSizeOuter(0).tickPadding(7)
      .tickFormat((d, i) => p.yLabels[i]));
  const ax = g.append("g").attr("transform", `translate(0,${p.axisY})`)
    .call(d3.axisBottom(x).tickValues(p.xTicks).tickSizeInner(-8).tickSizeOuter(0).tickPadding(9)
      .tickFormat((d, i) => p.xLabels[i]));
  [ay, ax].forEach(a => {
    a.selectAll("path,line").attr("stroke", colors.axis).attr("stroke-width", 1.3);
    a.selectAll("text").attr("font-size", labelSize).attr("font-family", "Liberation Sans").attr("fill", colors.text);
  });
  ax.selectAll("text").attr("x", (d, i) => i === 0 ? -3 : -5);

  // raw trace
  (p.lines || []).forEach(l => g.append("path").attr("d", curve(l)).attr("fill", "none")
    .attr("stroke", colors.orange).attr("stroke-width", 6).attr("stroke-linecap", "round").attr("stroke-linejoin", "round"));
  (p.dotted || []).forEach(l => g.append("path").attr("d", curve(l)).attr("fill", "none")
    .attr("stroke", colors.orange).attr("stroke-width", 6).attr("stroke-linecap", "round").attr("stroke-dasharray", `0 ${p.dotGap}`));
  g.selectAll(".dot").data(p.dots || []).enter().append("circle").attr("class", "dot")
    .attr("cx", d => x(d[0])).attr("cy", d => y(d[1])).attr("r", 3).attr("fill", colors.orange);

  // measured stretches under the fit
  const rawStroke = (list, color, w, op) => list.forEach(l => g.append("path").attr("d", smooth(l)).attr("fill", "none")
    .attr("stroke", color).attr("stroke-width", w).attr("stroke-opacity", op).attr("stroke-linecap", "round"));
  rawStroke(p.blue, colors.blue, 8, 1);
  rawStroke(p.red, colors.red, 8, 1);

  // fitted band
  p.fit.forEach(l => g.append("path").attr("d", smooth(l)).attr("fill", "none")
    .attr("stroke", colors.green).attr("stroke-width", 11.5));
  rawStroke(p.blue, "#3f7f62", 6, .75);
  rawStroke(p.red, "#a98a2a", 6, .75);
  p.fit.forEach(l => g.append("path").attr("d", smooth(l)).attr("fill", "none")
    .attr("stroke", "#fff").attr("stroke-width", 3.2));

  g.selectAll(".be").data(p.blueEnds).enter().append("circle").attr("class", "be")
    .attr("cx", d => x(d[0])).attr("cy", d => y(d[1])).attr("r", 3).attr("fill", colors.blue);
  g.selectAll(".re").data(p.redEnds).enter().append("circle").attr("class", "re")
    .attr("cx", d => x(d[0])).attr("cy", d => y(d[1])).attr("r", 3).attr("fill", colors.red);

  styledText(g, p.yNameAt[0], p.yNameAt[1], true, yNames[p.yName]);
  if (p.xName) styledText(g, p.xNameAt[0], p.xNameAt[1], false, xNames[p.xName]);

  if (p.arrow) {
    const [x1, x2, ay2] = p.arrow, dir = x2 > x1 ? 1 : -1;
    g.append("line").attr("x1", x1).attr("x2", x2 - dir * 5).attr("y1", ay2).attr("y2", ay2)
      .attr("stroke", "#111").attr("stroke-width", 2.2);
    g.append("path").attr("fill", "#111")
      .attr("d", `M${x2},${ay2}L${x2 - dir * 11},${ay2 - 5.5}L${x2 - dir * 8},${ay2}L${x2 - dir * 11},${ay2 + 5.5}Z`);
  }
}
panels.forEach(drawPanel);

// panel letters
[["A", 8, 23], ["B", 506, 23], ["C", 8, 667], ["D", 503, 667]].forEach(l =>
  svg.append("text").attr("x", l[1]).attr("y", l[2]).attr("font-size", 16).attr("font-weight", 700)
    .style("font-family", "'Open Sans'").attr("fill", "#1a1a1a").text(l[0]));

// Panel D
const gd = svg.append("g");
const fy = d3.scaleLinear().domain([50, 100]).range([1103, 742]);
const fx = d3.scalePoint().domain(stimulusLevels).range([607, 980]);
const jitter = d3.scaleLinear().domain([-1, 1]).range([-9.2, 9.2]);

const fa = gd.append("g").attr("transform", "translate(560,0)")
  .call(d3.axisLeft(fy).tickValues(fitTicks).tickSizeInner(-8).tickSizeOuter(0).tickPadding(5)
    .tickFormat((d, i) => fitTickLabels[i]));
fa.selectAll("path,line").attr("stroke", colors.axis).attr("stroke-width", 1.3);
fa.selectAll("text").attr("font-size", labelSize).attr("font-family", "Liberation Sans").attr("fill", colors.text);
styledText(gd, 544, 906, true, [["Fit percentage "], ["F", "i"]]);

stimulusLevels.forEach((s, i) => {
  const cx = fx(s), g = gd.append("g");
  g.selectAll("circle").data(topBand.concat(fitPoints[i])).enter().append("circle")
    .attr("cx", d => cx + jitter(d[0])).attr("cy", d => fy(d[1])).attr("r", 1.05)
    .attr("fill", "#6a6b6e").attr("fill-opacity", .8);
  // whiskers
  g.append("line").attr("x1", cx).attr("x2", cx).attr("y1", fy(boxQ1[i])).attr("y2", fy(whiskerLow[i]))
    .attr("stroke", "#111").attr("stroke-width", 1.4).attr("stroke-dasharray", "12 9").attr("stroke-dashoffset", -3);
  g.append("line").attr("x1", cx).attr("x2", cx).attr("y1", fy(boxQ3[i])).attr("y2", fy(100)).attr("stroke", "#111").attr("stroke-width", 1.4);
  [whiskerLow[i], 100].forEach(v => g.append("line").attr("x1", cx - 9).attr("x2", cx + 9).attr("y1", fy(v)).attr("y2", fy(v))
    .attr("stroke", "#111").attr("stroke-width", 1.3));
  g.append("rect").attr("x", cx - 18.5).attr("width", 37).attr("y", fy(boxQ3[i])).attr("height", fy(boxQ1[i]) - fy(boxQ3[i]))
    .attr("fill", "none").attr("stroke", colors.blue).attr("stroke-width", 1.3);
  g.append("line").attr("x1", cx - 18).attr("x2", cx + 18).attr("y1", fy(boxMedian[i])).attr("y2", fy(boxMedian[i]))
    .attr("stroke", "#ee2a30").attr("stroke-width", 2.6);

  // light level icon
  const base = 1137;
  const ic = gd.append("g").attr("transform", `translate(${cx},${base})`);
  const rays = sunLevel[i] === 3
    ? [[90,7,14.5,2.6],[45,7,14,2.6],[135,7,14,2.6],[8,8,13.7,1.8],[172,8,13.7,1.8]]
    : sunLevel[i] === 2
      ? [[90,0,7,2],[17,4.5,10,1.6],[163,4.5,10,1.6]]
      : [[90,0,5.5,1.3],[6,8,10,.9],[174,8,10,.9]];
  rays.forEach(r => {
    const a = r[0] * Math.PI / 180, c = Math.cos(a), n = Math.sin(a);
    ic.append("path").attr("fill", "#f6a623")
      .attr("d", `M${c * r[1] + n * r[3]},${-n * r[1] + c * r[3]}L${c * r[2]},${-n * r[2]}L${c * r[1] - n * r[3]},${-n * r[1] - c * r[3]}Z`);
  });
  if (sunLevel[i] === 3) ic.append("path").attr("fill", "#f6a623").attr("d", "M-5.8,0A5.8,5.8 0 0 1 5.8,0Z");
  gd.append("rect").attr("x", cx - 20.5).attr("y", base).attr("width", 41).attr("height", 3.6).attr("fill", "#58595b");
  if (sunLevel[i] !== 2) gd.append("text").attr("x", cx).attr("y", 1159).attr("text-anchor", "middle")
    .attr("font-size", 18.5).attr("fill", "#6d6e71").text(sunLevel[i] === 1 ? "Twilight" : "Sunrise");
});

// brackets under the boxes
[[0, 2], [3, 5]].forEach(r => {
  const names = stimulusLevels.slice(r[0], r[1] + 1);
  const b = d3.scalePoint().domain(names).range([fx(names[0]), fx(names[2])]);
  const a = gd.append("g").attr("transform", "translate(0,1112)")
    .call(d3.axisBottom(b).tickSizeInner(-8).tickSizeOuter(0).tickFormat(""));
  a.selectAll("path,line").attr("stroke", colors.axis).attr("stroke-width", 1.3);
});
const hook = (x0, x1, y0, y1) => gd.append("path").attr("fill", "none").attr("stroke", colors.axis).attr("stroke-width", 1.3)
  .attr("d", `M${x0},${y0}V${y1}H${x1}`);
hook(607, 649, 1187, 1193); hook(756, 714, 1187, 1193);
hook(831, 873, 1191, 1197); hook(980, 937, 1191, 1197);

// stimulus discs
const dotDisc = gd.append("g").attr("transform", "translate(681,1193)");
dotDisc.append("circle").attr("r", 29).attr("fill", "#000").attr("stroke", "#999").attr("stroke-width", .6);
d3.range(-6, 7).forEach(row => d3.range(-6, 7).forEach(col => {
  const dx = (col + (row % 2 ? .5 : 0)) * 6.2, dy = row * 5.4;
  if (Math.hypot(dx, dy) < 27.5) dotDisc.append("circle").attr("cx", dx).attr("cy", dy).attr("r", 1.5).attr("fill", "#fff");
}));
dotDisc.append("circle").attr("r", 3).attr("fill", "#fff");

const wheel = gd.append("g").attr("transform", "translate(905,1195)");
wheel.append("circle").attr("r", 30).attr("fill", "#fff").attr("stroke", "#999").attr("stroke-width", .8);
const wedge = d3.arc().innerRadius(0).outerRadius(29.6);
d3.range(16).forEach(k => wheel.append("path").attr("fill", "#000")
  .attr("d", wedge({ startAngle: (k - .25) * Math.PI / 8, endAngle: (k + .25) * Math.PI / 8 })));
wheel.append("circle").attr("r", 2.4).attr("fill", "#fff");
</script>
</body>
</html>
